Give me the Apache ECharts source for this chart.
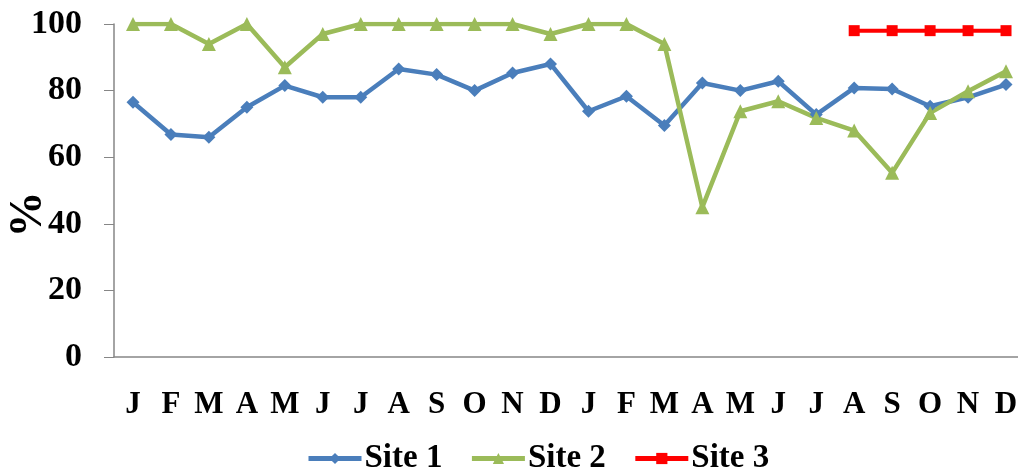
<!DOCTYPE html>
<html lang="en">
<head>
    <meta charset="UTF-8">
    <title>Site chart</title>
    <script src="https://cdn.jsdelivr.net/npm/echarts@6/dist/echarts.min.js"></script>
</head>
<body style="margin:0;">
<div id="main" style="width:1018px;height:476px;"></div>
<script>
    var months = ['J','F','M','A','M','J','J','A','S','O','N','D','J','F','M','A','M','J','J','A','S','O','N','D'];
    var site1 = [76.5,66.8,66,75,81.5,78,78,86.5,84.8,80,85.3,88,73.8,78.3,69.5,82.3,80,82.8,72.8,80.8,80.5,75.3,78,81.8];
    var site2 = [100,100,94,100,87,97,100,100,100,100,100,97,100,100,94,45,73.8,76.8,71.8,68,55.3,73.3,79.8,85.8];
    var site3 = [null,null,null,null,null,null,null,null,null,null,null,null,null,null,null,null,null,null,null,98,98,98,98,98];
    var yTicks = [0,20,40,60,80,100];

    var font = "'Liberation Serif', 'Times New Roman', serif";
    var myChart = echarts.init(document.getElementById('main'));
    var option = {
        animation: false,
        color: ['#4a7ebb', '#9bbb59', '#ff0000'],
        grid: {left: 114, right: -7, top: 24, bottom: 119, outerBoundsMode: 'none', containLabel: false},
        legend: {
            left: 301,
            top: 437,
            itemWidth: 53,
            itemHeight: 14,
            itemGap: 27,
            lineStyle: {width: 5},
            textStyle: {fontFamily: font, fontWeight: 'bold', fontSize: 33, color: '#000', padding: [0, 0, 0, -2]},
            data: ['Site 1', 'Site 2', 'Site 3']
        },
        xAxis: {
            type: 'category',
            data: months,
            axisLine: {lineStyle: {color: '#868686', width: 1.5}},
            axisTick: {length: 10, lineStyle: {color: '#868686'}},
            axisLabel: {
                interval: 0, margin: 32, color: '#000',
                fontFamily: font, fontWeight: 'bold', fontSize: 31
            }
        },
        yAxis: {
            type: 'value',
            min: yTicks[0],
            max: yTicks[yTicks.length - 1],
            interval: 20,
            name: '%',
            nameLocation: 'middle',
            nameRotate: 90,
            nameGap: 62,
            nameMoveOverlap: false,
            nameTextStyle: {fontFamily: font, fontWeight: 'bold', fontSize: 46, color: '#000', padding: [0, 48, 0, 0]},
            axisLine: {show: true, lineStyle: {color: '#868686', width: 1.5}},
            axisTick: {show: true, length: 10, lineStyle: {color: '#868686'}},
            splitLine: {show: false},
            axisLabel: {
                margin: 32, color: '#000',
                fontFamily: font, fontWeight: 'bold', fontSize: 34
            }
        },
        series: [
            {
                name: 'Site 1', type: 'line', data: site1,
                symbol: 'diamond', symbolSize: 13,
                lineStyle: {width: 4.5}
            },
            {
                name: 'Site 2', type: 'line', data: site2,
                symbol: 'triangle', symbolSize: 14,
                lineStyle: {width: 4.5}
            },
            {
                name: 'Site 3', type: 'line', data: site3,
                symbol: 'rect', symbolSize: 11,
                lineStyle: {width: 4}
            }
        ]
    };
    myChart.setOption(option);
</script>
</body>
</html>
